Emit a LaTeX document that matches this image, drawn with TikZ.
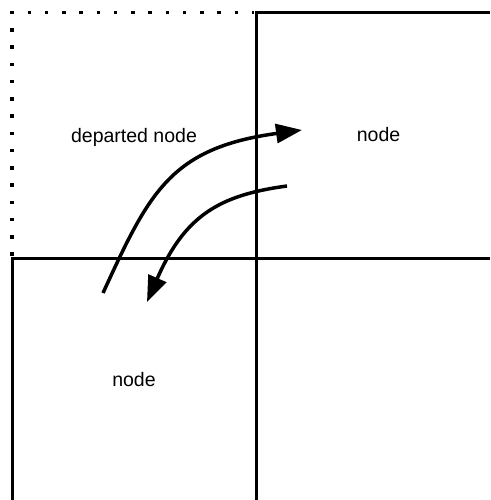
\documentclass[tikz,border=0pt]{standalone}
\usepackage{fontspec}
\setmainfont{Liberation Sans}
\usetikzlibrary{arrows.meta}
\tikzset{
  wall/.style={line width=3pt, line cap=butt, line join=miter},
  dotwall/.style={line width=3.5pt, line cap=butt, dash pattern=on 3.5pt off 13.76pt},
  flow/.style={line width=3.5pt, -{Triangle[length=26pt,width=19pt]}},
  lbl/.style={font=\fontsize{19.5}{23}\selectfont, anchor=base, inner sep=0pt}
}
\begin{document}
\begin{tikzpicture}[x=1pt,y=-1pt]
\useasboundingbox (0,0) rectangle (490,500);
% solid walls
\draw[wall] (256,500) -- (256,12.5) -- (490,12.5);
\draw[wall] (490,258) -- (12,258) -- (12,500);
% dotted walls of departed node
\draw[dotwall] (10.25,12.5) -- (254,12.5);
\draw[dotwall] (12,10.75) -- (12,256);
% labels
\node[lbl] (dep) at (134,142.5) {departed node};
\node[lbl] (n1) at (378.5,141.5) {node};
\node[lbl] (n2) at (134,386) {node};
% arrows
\coordinate (a1s) at (103,293);
\coordinate (a1e) at (302,130);
\coordinate (a2s) at (287,186);
\coordinate (a2e) at (147,302);
\draw[flow] (a1s) .. controls (149,193) and (170,148) .. (a1e);
\draw[flow] (a2s) .. controls (220,195) and (185,215) .. (a2e);
\end{tikzpicture}
\end{document}
